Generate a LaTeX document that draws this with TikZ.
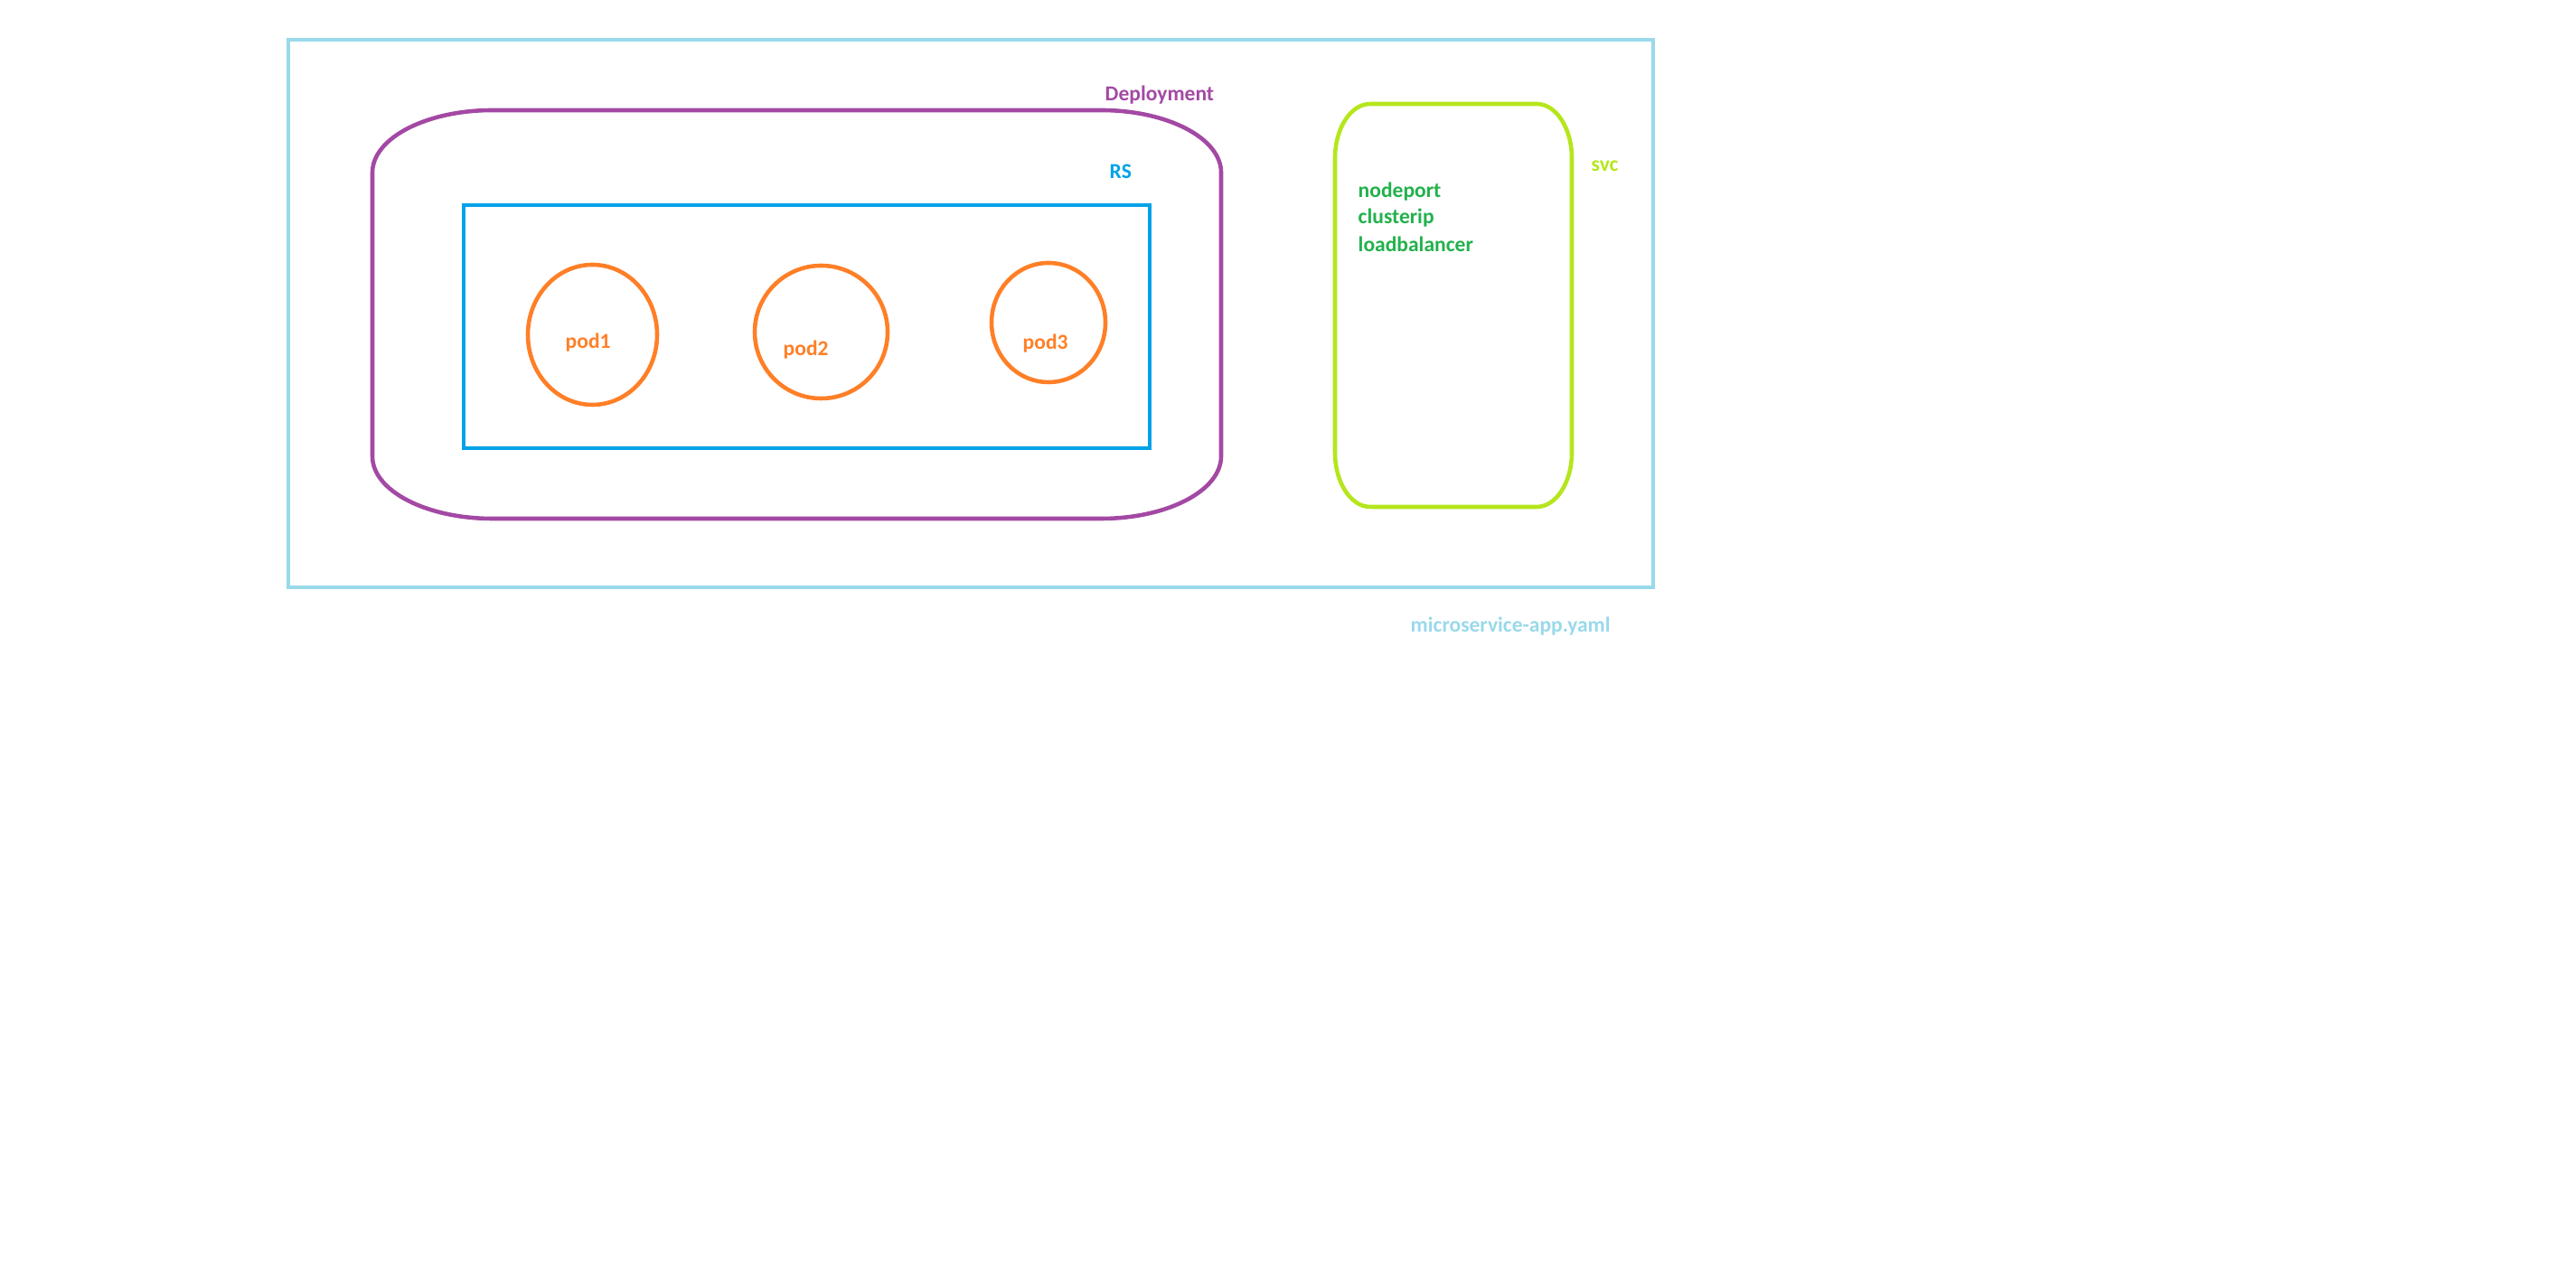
\documentclass[tikz,border=0pt]{standalone}
\usepackage{fontspec}
\setmainfont{Carlito}
\usetikzlibrary{shapes.geometric}
\definecolor{K8sYaml}{RGB}{153,217,234}
\definecolor{K8sPurple}{RGB}{163,73,164}
\definecolor{K8sBlue}{RGB}{0,162,232}
\definecolor{K8sOrange}{RGB}{255,127,39}
\definecolor{K8sLime}{RGB}{181,230,29}
\definecolor{K8sGreen}{RGB}{34,177,76}
\tikzset{
  k8s/area/.style={
    rectangle,
    inner sep=0pt,
    outer sep=0pt
  },
  k8s/file/.style={
    k8s/area,
    draw=K8sYaml,
    line width=1.4pt
  },
  k8s/rs/.style={
    k8s/area,
    draw=K8sBlue,
    line width=1.3pt
  },
  k8s/pod/.style={
    ellipse,
    draw=K8sOrange,
    line width=1.3pt,
    inner sep=0pt,
    outer sep=0pt
  },
  k8s/outline/.style={line width=1.3pt, draw=#1},
  k8s/text/.style={
    font=\fontsize{6.7}{8}\selectfont\bfseries,
    inner sep=0pt,
    anchor=base west,
    text=#1
  }
}

\begin{document}
\begin{tikzpicture}[x=1cm,y=1cm]
  \useasboundingbox (0,0) rectangle (28.5,14.09);
  % yaml file
  \node[k8s/file,minimum width=15.10cm,minimum height=6.06cm] (file) at (10.74,10.62) {};
  \node[k8s/text=K8sYaml] (filelabel) at (15.60,7.09) {microservice-app.yaml};
  % deployment
  \node[k8s/area,minimum width=9.39cm,minimum height=4.52cm] (deploy) at (8.815,10.61) {};
  \draw[k8s/outline=K8sPurple] (deploy.north)
    -- ([xshift=-1.33cm]deploy.north east) arc[start angle=90,end angle=0,x radius=1.33cm,y radius=0.69cm]
    -- ([yshift=0.69cm]deploy.south east) arc[start angle=0,end angle=-90,x radius=1.33cm,y radius=0.69cm]
    -- ([xshift=1.33cm]deploy.south west) arc[start angle=270,end angle=180,x radius=1.33cm,y radius=0.69cm]
    -- ([yshift=-0.69cm]deploy.north west) arc[start angle=180,end angle=90,x radius=1.33cm,y radius=0.69cm]
    -- cycle;
  \node[k8s/text=K8sPurple] (deploylabel) at (12.22,12.97) {Deployment};
  % replica set
  \node[k8s/rs,minimum width=7.59cm,minimum height=2.69cm] (rs) at (8.925,10.475) {};
  \node[k8s/text=K8sBlue] (rslabel) at (12.27,12.11) {RS};
  % pods
  \node[k8s/pod,minimum width=1.43cm,minimum height=1.55cm] (pod1) at (6.555,10.385) {};
  \node[k8s/pod,minimum width=1.47cm,minimum height=1.47cm] (pod2) at (9.085,10.415) {};
  \node[k8s/pod,minimum width=1.26cm,minimum height=1.32cm] (pod3) at (11.60,10.52) {};
  \node[k8s/text=K8sOrange] (pod1label) at (6.25,10.23) {pod1};
  \node[k8s/text=K8sOrange] (pod2label) at (8.66,10.15) {pod2};
  \node[k8s/text=K8sOrange] (pod3label) at (11.31,10.22) {pod3};
  % service
  \node[k8s/area,minimum width=2.62cm,minimum height=4.46cm] (svc) at (16.08,10.71) {};
  \draw[k8s/outline=K8sLime] (svc.north)
    -- ([xshift=-0.39cm]svc.north east) arc[start angle=90,end angle=0,x radius=0.39cm,y radius=0.60cm]
    -- ([yshift=0.60cm]svc.south east) arc[start angle=0,end angle=-90,x radius=0.39cm,y radius=0.60cm]
    -- ([xshift=0.39cm]svc.south west) arc[start angle=270,end angle=180,x radius=0.39cm,y radius=0.60cm]
    -- ([yshift=-0.60cm]svc.north west) arc[start angle=180,end angle=90,x radius=0.39cm,y radius=0.60cm]
    -- cycle;
  \node[k8s/text=K8sLime] (svclabel) at (17.60,12.19) {svc};
  \node[k8s/text=K8sGreen] (nodeport) at (15.02,11.90) {nodeport};
  \node[k8s/text=K8sGreen] (clusterip) at (15.02,11.61) {clusterip};
  \node[k8s/text=K8sGreen] (loadbalancer) at (15.02,11.30) {loadbalancer};
\end{tikzpicture}
\end{document}
